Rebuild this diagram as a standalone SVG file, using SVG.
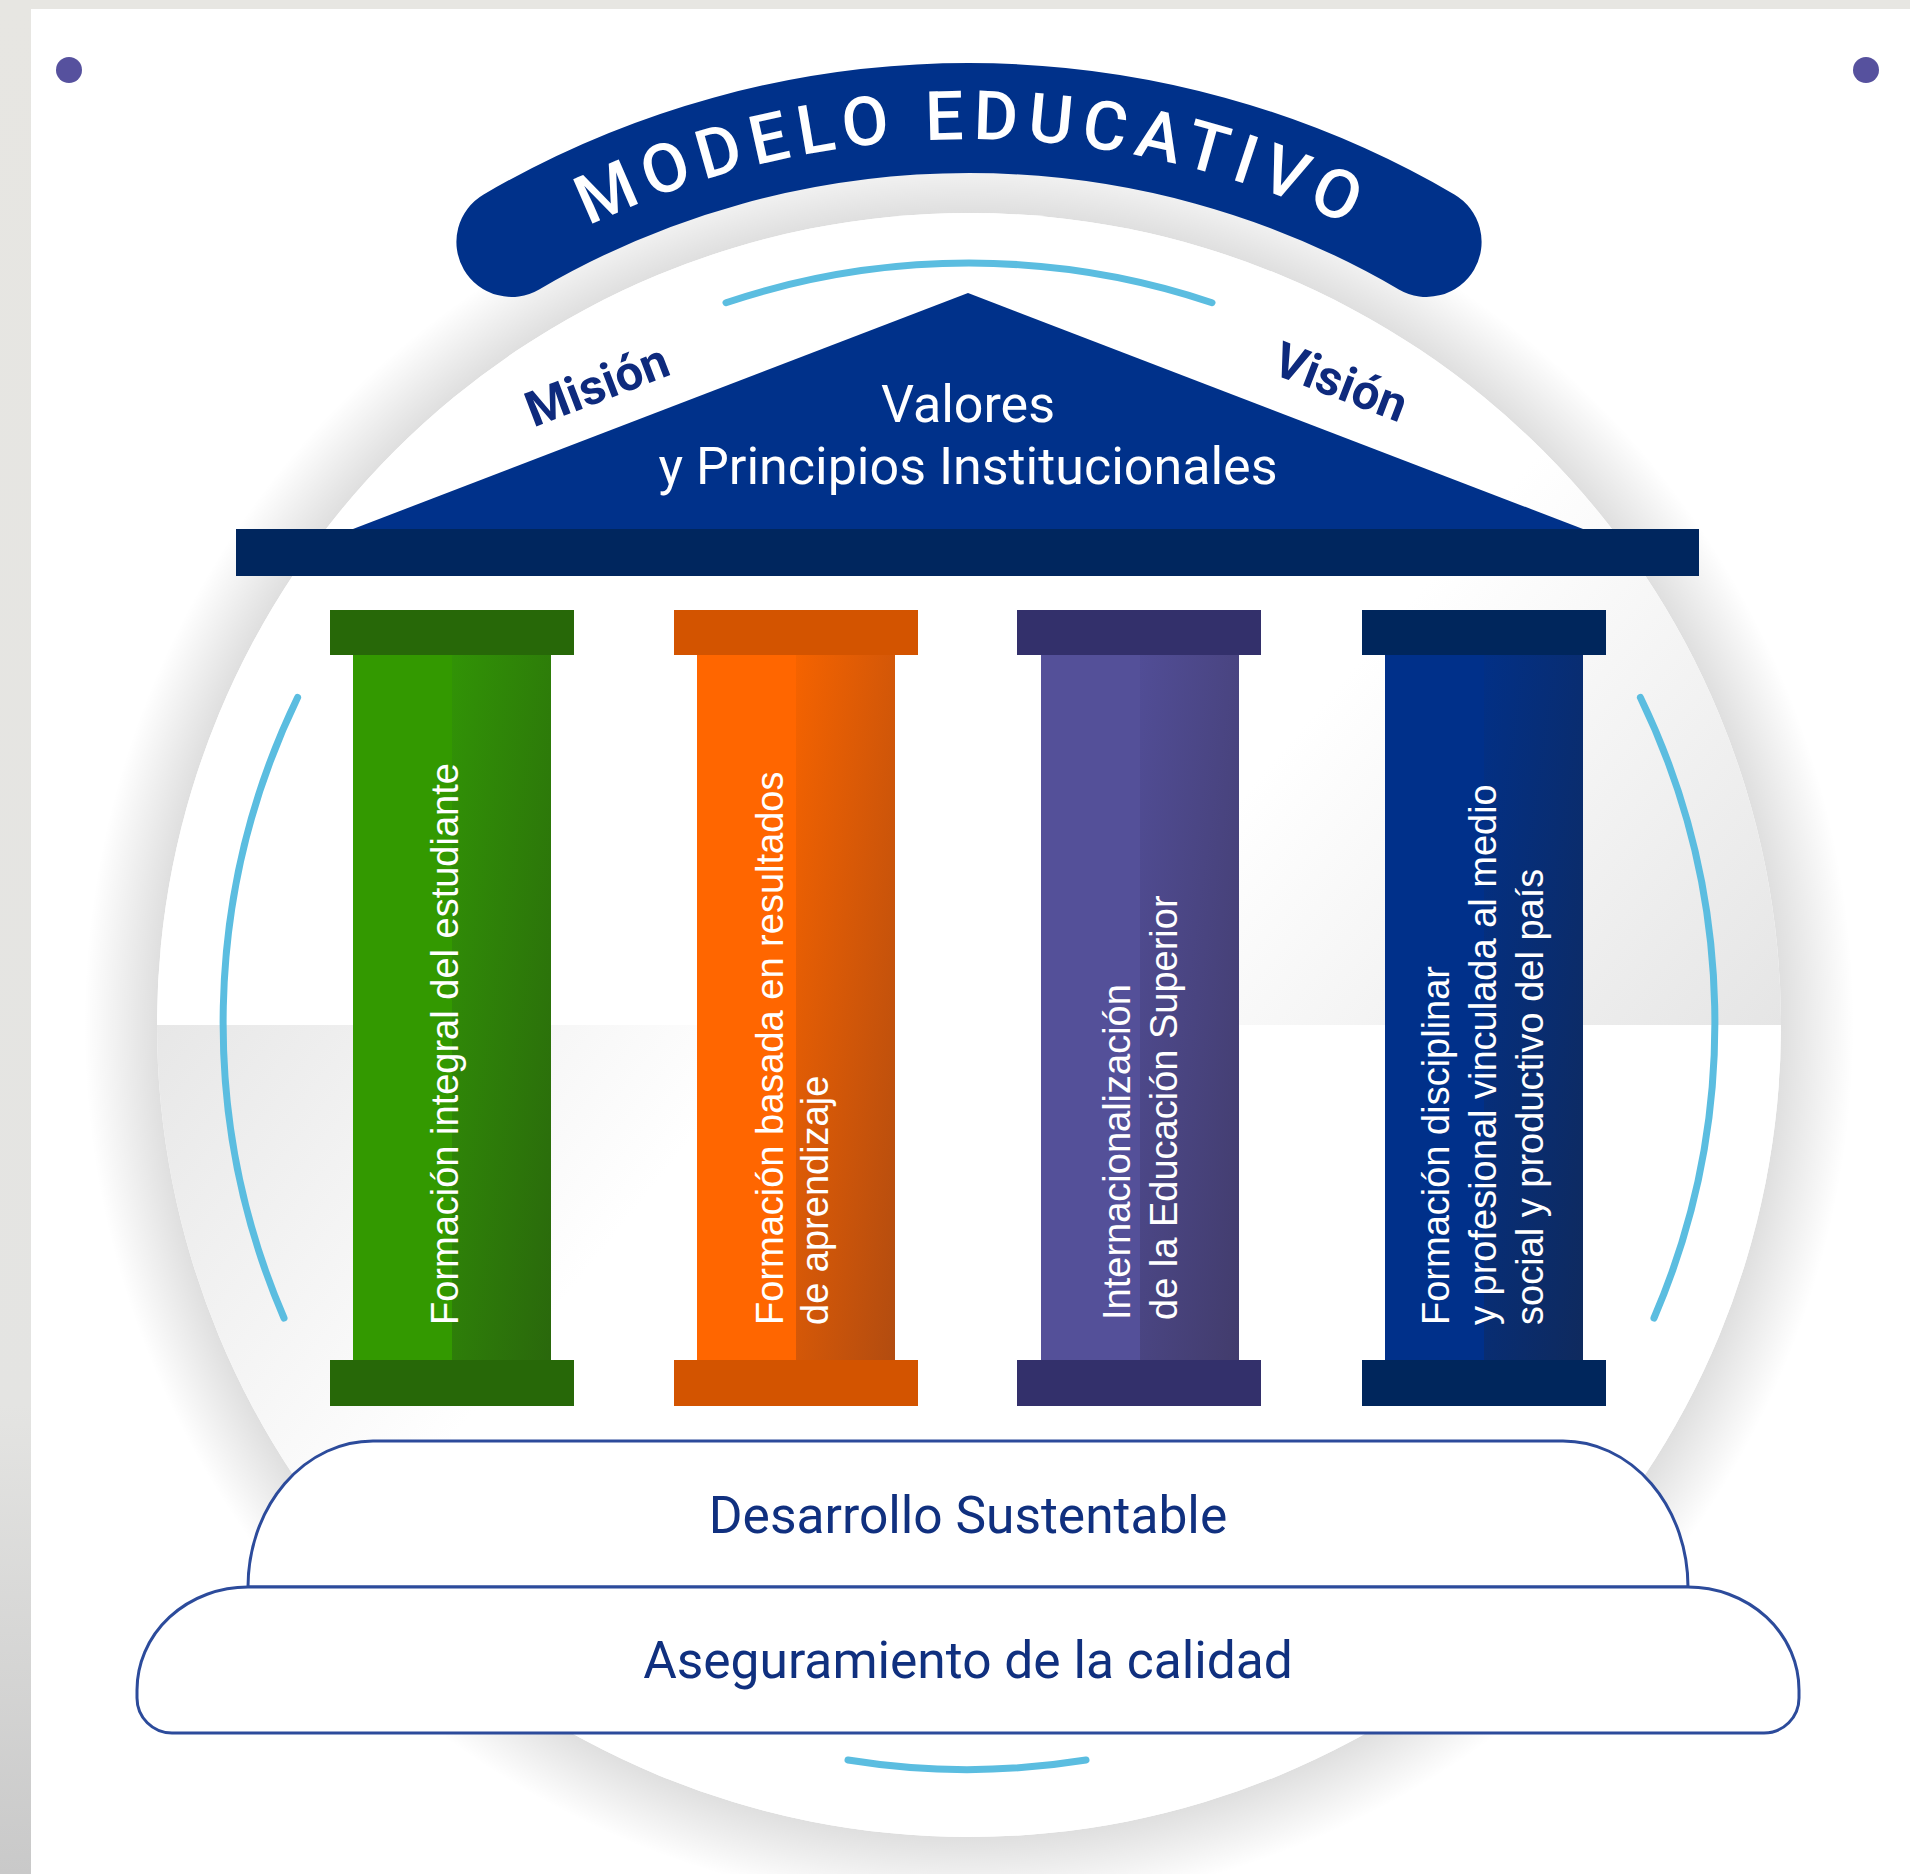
<svg xmlns="http://www.w3.org/2000/svg" width="1910" height="1874" viewBox="0 0 1910 1874">
<style>
.arcb{fill:none;stroke:#5bbde0;stroke-width:7;stroke-linecap:round}
.ctext{font-family:"Liberation Sans",Arial,sans-serif;font-size:38px;fill:#ffffff}
.ptext{font-family:Roboto,"Liberation Sans",sans-serif;font-size:51.5px;fill:#10307f;text-anchor:middle}
.plat{fill:#ffffff;stroke:#2c4b9b;stroke-width:3}
.side{font-family:Roboto,"Liberation Sans",sans-serif;font-weight:bold;font-size:49px;fill:#0e2a7d;text-anchor:middle}
</style>
<defs>
<linearGradient id="strip" x1="0" y1="0" x2="0" y2="1874" gradientUnits="userSpaceOnUse">
<stop offset="0" stop-color="#e7e6e2"/><stop offset="0.75" stop-color="#e4e4e2"/><stop offset="1" stop-color="#c9c9c9"/>
</linearGradient>
<radialGradient id="shadow" cx="969" cy="1025" r="885" gradientUnits="userSpaceOnUse">
<stop offset="0.915" stop-color="#000" stop-opacity="0.13"/><stop offset="1" stop-color="#000" stop-opacity="0"/>
</radialGradient>
<linearGradient id="lowerShade" x1="157" y1="1025" x2="540" y2="1330" gradientUnits="userSpaceOnUse">
<stop offset="0" stop-color="#e7e7e7"/><stop offset="1" stop-color="#ffffff"/>
</linearGradient>
<linearGradient id="upperShade" x1="1781" y1="1025" x2="1360" y2="660" gradientUnits="userSpaceOnUse">
<stop offset="0" stop-color="#e5e5e5"/><stop offset="1" stop-color="#ffffff"/>
</linearGradient>
<clipPath id="circClip"><circle cx="969" cy="1025" r="812"/></clipPath>
<linearGradient id="gGreen" x1="0" y1="0" x2="1" y2="1"><stop offset="0" stop-color="#319306"/><stop offset="1" stop-color="#2a680c"/></linearGradient>
<linearGradient id="gOrange" x1="0" y1="0" x2="1" y2="1"><stop offset="0" stop-color="#f56300"/><stop offset="1" stop-color="#b24c10"/></linearGradient>
<linearGradient id="gPurple" x1="0" y1="0" x2="1" y2="1"><stop offset="0" stop-color="#514d96"/><stop offset="1" stop-color="#423c6c"/></linearGradient>
<linearGradient id="gNavy" x1="0" y1="0" x2="1" y2="1"><stop offset="0" stop-color="#023086"/><stop offset="1" stop-color="#0f2a5e"/></linearGradient>
<path id="bannerText" d="M 400.8 347.8 A 878 878 0 0 1 1537.2 347.8"/>
</defs>

<g id="background">
<rect x="0" y="0" width="1910" height="1874" fill="#ffffff"/>
<rect x="0" y="0" width="31" height="1874" fill="url(#strip)"/>
<rect x="0" y="0" width="1910" height="9" fill="#e7e6e2"/>
<circle cx="69" cy="70" r="13" fill="#56519e"/>
<circle cx="1866" cy="70" r="13" fill="#56519e"/>
</g>

<g id="sphere">
<circle cx="969" cy="1025" r="885" fill="url(#shadow)"/>
<circle cx="969" cy="1025" r="812" fill="#ffffff"/>
<g clip-path="url(#circClip)">
<rect x="150" y="1025" width="1640" height="820" fill="url(#lowerShade)"/>
<rect x="150" y="200" width="1640" height="825" fill="url(#upperShade)"/>
</g>
</g>

<g id="decorative-arcs">
<path class="arcb" d="M 726 302.7 A 765 765 0 0 1 1212 302.7"/>
<path class="arcb" d="M 297.6 697.5 A 747 747 0 0 0 284 1318"/>
<path class="arcb" d="M 1640.4 697.5 A 747 747 0 0 1 1654 1318"/>
<path class="arcb" d="M 848 1760 A 745 745 0 0 0 1086 1760"/>
</g>

<g id="banner">
<path d="M 511.4 241.9 A 907 907 0 0 1 1426.6 241.9" fill="none" stroke="#00318a" stroke-width="110" stroke-linecap="round"/>
<text font-family="Roboto,'Liberation Sans',sans-serif" font-weight="500" font-size="68" fill="#ffffff" letter-spacing="9"><textPath href="#bannerText" startOffset="50.3%" text-anchor="middle">MODELO EDUCATIVO</textPath></text>
</g>

<g id="roof">
<polygon points="968,293 353,529 1583,529" fill="#00318a"/>
<rect x="236" y="529" width="1463" height="47" fill="#00265e"/>
<text font-family="Roboto,'Liberation Sans',sans-serif" font-size="52" fill="#ffffff" text-anchor="middle"><tspan x="968" y="422">Valores</tspan><tspan x="968" y="484">y Principios Institucionales</tspan></text>
</g>

<g id="mision"><text class="side" transform="translate(597 385) rotate(-21)" x="0" y="17">Misión</text></g>
<g id="vision"><text class="side" transform="translate(1341 382) rotate(21)" x="0" y="17">Visión</text></g>

<g id="col1">
<rect x="353" y="655" width="99" height="705" fill="#339900"/>
<rect x="452" y="655" width="99" height="705" fill="url(#gGreen)"/>
<rect x="330" y="610" width="244" height="45" fill="#276808"/>
<rect x="330" y="1360" width="244" height="46" fill="#276808"/>
<text class="ctext" transform="translate(458 1325) rotate(-90)">Formación integral del estudiante</text>
</g>

<g id="col2">
<rect x="697" y="655" width="99" height="705" fill="#ff6600"/>
<rect x="796" y="655" width="99" height="705" fill="url(#gOrange)"/>
<rect x="674" y="610" width="244" height="45" fill="#d35400"/>
<rect x="674" y="1360" width="244" height="46" fill="#d35400"/>
<text class="ctext" transform="translate(783 1325) rotate(-90)">Formación basada en resultados</text>
<text class="ctext" transform="translate(828 1325) rotate(-90)">de aprendizaje</text>
</g>

<g id="col3">
<rect x="1041" y="655" width="99" height="705" fill="#545099"/>
<rect x="1140" y="655" width="99" height="705" fill="url(#gPurple)"/>
<rect x="1017" y="610" width="244" height="45" fill="#33306b"/>
<rect x="1017" y="1360" width="244" height="46" fill="#33306b"/>
<text class="ctext" transform="translate(1130 1320) rotate(-90)">Internacionalización</text>
<text class="ctext" transform="translate(1177 1320) rotate(-90)">de la Educación Superior</text>
</g>

<g id="col4">
<rect x="1385" y="655" width="99" height="705" fill="#00308a"/>
<rect x="1484" y="655" width="99" height="705" fill="url(#gNavy)"/>
<rect x="1362" y="610" width="244" height="45" fill="#00265c"/>
<rect x="1362" y="1360" width="244" height="46" fill="#00265c"/>
<text class="ctext" transform="translate(1449 1325) rotate(-90)">Formación disciplinar</text>
<text class="ctext" transform="translate(1496 1325) rotate(-90)">y profesional vinculada al medio</text>
<text class="ctext" transform="translate(1543 1325) rotate(-90)">social y productivo del país</text>
</g>

<g id="desarrollo">
<path class="plat" d="M 248 1587 A 125 146 0 0 1 373 1441 L 1563 1441 A 125 146 0 0 1 1688 1587 Z"/>
<text class="ptext" x="968" y="1533">Desarrollo Sustentable</text>
</g>

<g id="aseguramiento">
<path class="plat" d="M 248 1587 L 1688 1587 A 111 103 0 0 1 1799 1690 L 1799 1698 A 35 35 0 0 1 1764 1733 L 172 1733 A 35 35 0 0 1 137 1698 L 137 1690 A 111 103 0 0 1 248 1587 Z"/>
<text class="ptext" x="968" y="1678">Aseguramiento de la calidad</text>
</g>

<g id="connectors"></g>
</svg>
